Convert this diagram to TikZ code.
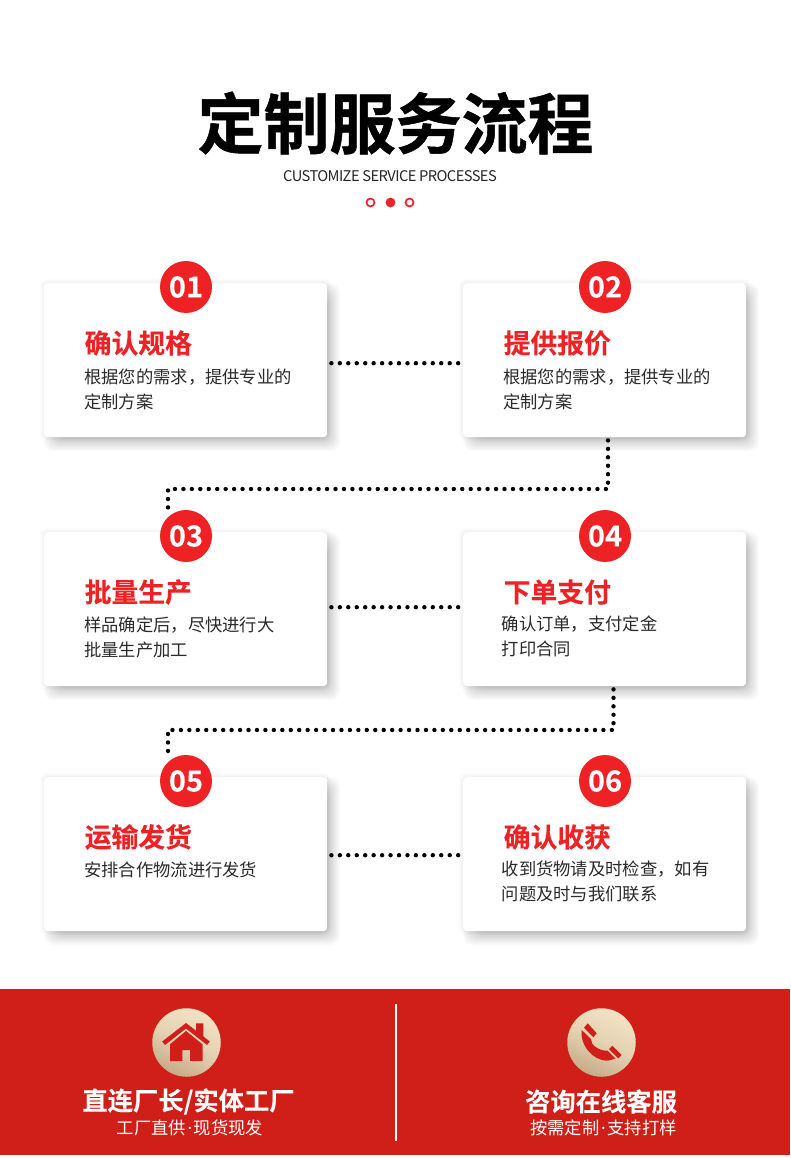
\documentclass[tikz,border=0pt]{standalone}
\usepackage{fontspec}
\setmainfont{Noto Sans CJK SC}
\newfontfamily\cjkb{Noto Sans CJK SC Bold}[FakeBold=0.01]
\newfontfamily\cjkt{Noto Sans CJK SC Bold}[FakeBold=0.8]
\newfontfamily\enfont{Noto Sans CJK SC}[LetterSpace=-4]
\newfontfamily\dotfont{Noto Sans}
\definecolor{redA}{HTML}{EE2224}
\definecolor{redB}{HTML}{D01F18}
\definecolor{bodyC}{HTML}{2A2A2A}
\definecolor{tanA}{HTML}{F2E2C4}
\definecolor{tanB}{HTML}{C6AB88}
\tikzset{
  x=1pt,y=-1pt,
  card/.style={fill=white,rounded corners=4pt,minimum width=283pt,minimum height=154pt,inner sep=0pt},
  badge/.style={circle,fill=redA,minimum size=52pt,inner sep=0pt,text=white,font=\cjkb\fontsize{29}{29}\selectfont},
  head/.style={anchor=west,inner sep=0pt,text=redA,font=\cjkb\fontsize{26.8}{28}\selectfont},
  bodyt/.style={anchor=west,inner sep=0pt,text=bodyC,font=\fontsize{17.3}{25}\selectfont},
  dotline/.style={line width=4.4pt,line cap=round,dash pattern=on 0pt off 8.45pt,black},
  tiny/.style={circle,draw=redA,line width=1.7pt,minimum size=8pt,inner sep=0pt},
  tanc/.style={circle,minimum size=68.5pt,inner sep=0pt,top color=tanA,bottom color=tanB,shading angle=-25,middle color=tanA!70!tanB},
  foot1/.style={inner sep=0pt,text=white,font=\cjkb\fontsize{25.3}{28}\selectfont},
  foot2/.style={inner sep=0pt,text=white,font=\fontsize{17.3}{18}\selectfont},
}
\newcommand{\cardshadow}[2]{%
  \foreach \i in {0,...,3}{%
    \fill[black,opacity=0.012,rounded corners=6pt]
      (#1-4+\i,#2-4+\i) rectangle (#1+283+4-\i,#2+154+4-\i);
  }%
  \foreach \i in {0,...,13}{%
    \fill[black,opacity=0.015,rounded corners=9pt]
      (#1+\i,#2+\i) rectangle (#1+283+13-\i,#2+154+14-\i);
  }%
}
\newcommand{\mdot}{{\dotfont\kern1.6pt·\kern1.6pt}}
\begin{document}
\begin{tikzpicture}
\useasboundingbox (0,0) rectangle (790,1158);
\fill[white] (0,0) rectangle (790,1158);
% title
\node[inner sep=0pt,font=\cjkt\fontsize{66}{70}\selectfont] (title) at (395.5,123) {定制服务流程};
\node[inner sep=0pt,text=black!85,font=\enfont\fontsize{14.7}{16}\selectfont] (sub) at (390,176) {CUSTOMIZE SERVICE PROCESSES};
\node[tiny] (t1) at (370.5,202.5) {};
\node[tiny,fill=redA] (t2) at (390.5,202.5) {};
\node[tiny] (t3) at (409.5,202.5) {};
% shadows
\cardshadow{44}{283}\cardshadow{463}{283}
\cardshadow{44}{532}\cardshadow{463}{532}
\cardshadow{44}{777}\cardshadow{463}{777}
% connector corners
\coordinate (k1) at (608,489);
\coordinate (k2) at (168,489);
\coordinate (k3) at (613.5,730);
\coordinate (k4) at (168,730);
% cards
\node[card,anchor=north west] (c1) at (44,283) {};
\node[card,anchor=north west] (c2) at (463,283) {};
\node[card,anchor=north west] (c3) at (44,532) {};
\node[card,anchor=north west] (c4) at (463,532) {};
\node[card,anchor=north west] (c5) at (44,777) {};
\node[card,anchor=north west] (c6) at (463,777) {};
% connectors
\draw[dotline] ([yshift=-3pt]c1.east) ++(4,0) -- ([yshift=-3pt,xshift=-4pt]c2.west);
\draw[dotline] ([yshift=2pt]c3.east) ++(4,0) -- ([yshift=2pt,xshift=-4pt]c4.west);
\draw[dotline] ([yshift=-1pt]c5.east) ++(4,0) -- ([yshift=-1pt,xshift=-4pt]c6.west);
\draw[dotline] (k1 |- c2.south) ++(0,3) -- (k1) -- (k2) -- ++(0,24);
\draw[dotline] (k3 |- c4.south) ++(0,3) -- (k3) -- (k4) -- ++(0,28);
% badges
\node[badge] (b1) at (186,287) {01};
\node[badge] (b2) at (605,287) {02};
\node[badge] (b3) at (186,536) {03};
\node[badge] (b4) at (605,536) {04};
\node[badge] (b5) at (186,781) {05};
\node[badge] (b6) at (605,781) {06};
% card text
\node[head] (h1) at (84.5,343) {确认规格};
\node[bodyt] (p1a) at (84,377) {根据您的需求，提供专业的};
\node[bodyt] (p1b) at (84,402) {定制方案};
\node[head] (h2) at (503.5,343) {提供报价};
\node[bodyt] (p2a) at (503,377) {根据您的需求，提供专业的};
\node[bodyt] (p2b) at (503,402) {定制方案};
\node[head] (h3) at (84.5,592) {批量生产};
\node[bodyt] (p3a) at (84,625) {样品确定后，尽快进行大};
\node[bodyt] (p3b) at (84,650) {批量生产加工};
\node[head] (h4) at (503.5,592) {下单支付};
\node[bodyt] (p4a) at (501.5,623.7) {确认订单，支付定金};
\node[bodyt] (p4b) at (501.5,648.7) {打印合同};
\node[head] (h5) at (84.5,837) {运输发货};
\node[bodyt] (p5a) at (84,870) {安排合作物流进行发货};
\node[head] (h6) at (503.5,837) {确认收获};
\node[bodyt] (p6a) at (501.5,868.7) {收到货物请及时检查，如有};
\node[bodyt] (p6b) at (501.5,893.7) {问题及时与我们联系};
% band
\fill[redB] (0,989) rectangle (790,1155);
\coordinate (d1) at (396,1004);
\coordinate (d2) at (396,1141);
\draw[white,line width=1.6pt] (d1) -- (d2);
\node[tanc] (i1) at (186.5,1042.5) {};
\node[tanc] (i2) at (601.5,1042.5) {};
% house
\fill[redB] (170,1044.3) -- (186,1031) -- (202.5,1044.3) -- (202.5,1061) -- (190,1061) -- (190,1050) -- (182.3,1050) -- (182.3,1061) -- (170,1061) -- cycle;
\fill[redB] (186,1023) -- (196,1030.7) -- (196,1023.3) -- (203.3,1023.3) -- (203.3,1036.4) -- (209.8,1041.5) -- (207,1045) -- (186,1028.5) -- (165,1045) -- (162.2,1041.5) -- cycle;
% phone
\fill[redB] (581.7,1030) .. controls (579.5,1044) and (592,1061) .. (608,1060.7) -- (615.5,1058.5) -- (607.7,1050.7) .. controls (599,1051) and (590.5,1045) .. (591,1039) -- cycle;
\fill[redB] (587.7,1023.3) -- (596.7,1033.3) -- (593.3,1037.3) -- (584,1027.7) -- cycle;
\fill[redB] (612.3,1045.7) -- (621.7,1055) -- (618.3,1058.3) -- (609,1049) -- cycle;
% footer text
\node[foot1] (f1) at (188.5,1101.5) {直连厂长/实体工厂};
\node[foot2] (f2) at (190,1127.5) {工厂直供\mdot 现货现发};
\node[foot1] (f3) at (601,1101.5) {咨询在线客服};
\node[foot2] (f4) at (603.5,1127.5) {按需定制\mdot 支持打样};
\end{tikzpicture}
\end{document}
